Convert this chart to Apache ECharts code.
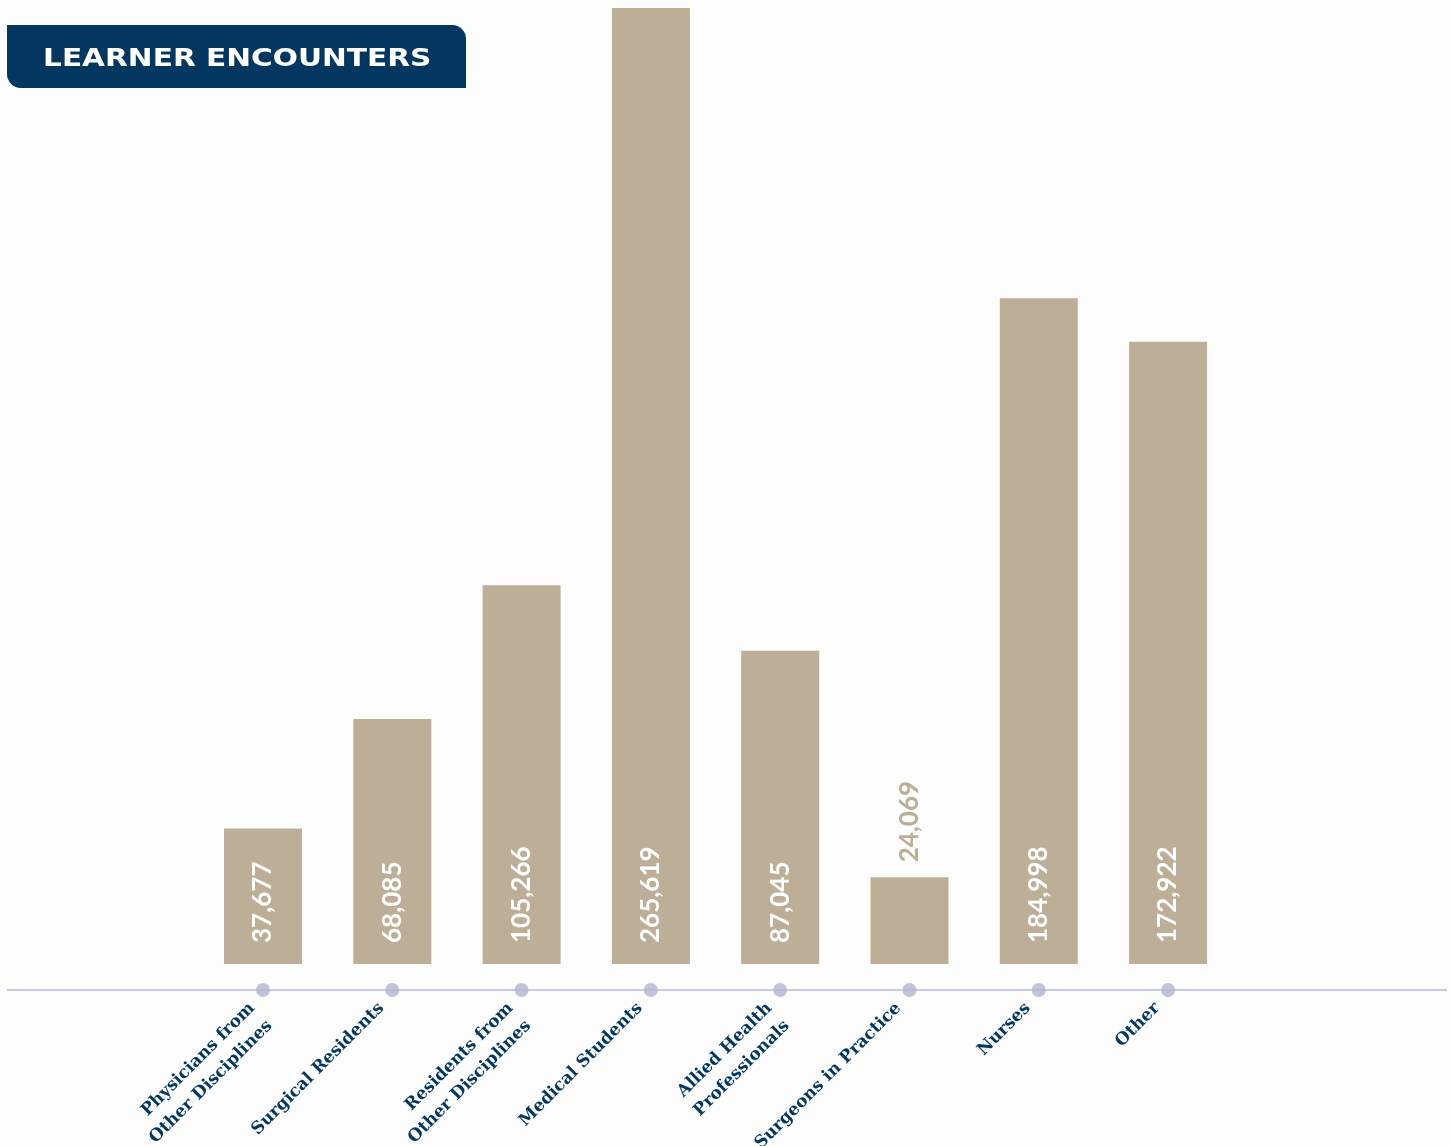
<!DOCTYPE html>
<html>
<head>
<meta charset="utf-8">
<script src="https://cdn.jsdelivr.net/npm/echarts@6/dist/echarts.min.js"></script>
<style>
html,body{margin:0;padding:0;background:#fdfdfd;}
#chart{width:1452px;height:1146px;}
</style>
</head>
<body>
<div id="chart"></div>
<script>
const titleText = 'LEARNER ENCOUNTERS';
const categories = [
  'Physicians from\nOther Disciplines',
  'Surgical Residents',
  'Residents from\nOther Disciplines',
  'Medical Students',
  'Allied Health\nProfessionals',
  'Surgeons in Practice',
  'Nurses',
  'Other'
];
const encounters = [37677, 68085, 105266, 265619, 87045, 24069, 184998, 172922];

const barColor = '#bdae97';
const navy = '#04375f';
const dotColor = '#b0b5cf';

const fmt = v => v.toLocaleString('en-US');

const barData = encounters.map(v => {
  const small = v < 30000;
  return {
    value: v,
    label: small ? {
      position: 'top', rotate: 90, align: 'left', verticalAlign: 'middle',
      distance: 10, color: barColor, offset: [5, 0]
    } : {
      position: 'insideBottom', rotate: 90, align: 'left', verticalAlign: 'middle',
      distance: 18, color: '#ffffff', offset: [3, 0]
    }
  };
});

const chart = echarts.init(document.getElementById('chart'), null, {renderer: 'canvas'});
chart.setOption({
  backgroundColor: '#fdfdfd',
  animation: false,
  grid: {left: 198.35, right: 219.25, top: 8, bottom: 182, containLabel: false, outerBoundsMode: 'none'},
  xAxis: {
    type: 'category',
    data: categories,
    axisLine: {show: false},
    axisTick: {show: false},
    axisLabel: {
      interval: 0,
      rotate: 45,
      align: 'right',
      verticalAlign: 'top',
      margin: 13,
      padding: [0, 28, 0, 0],
      lineHeight: 25,
      fontFamily: 'DejaVu Serif',
      fontWeight: 'bold',
      fontSize: 17,
      color: navy
    }
  },
  yAxis: {type: 'value', min: 0, max: 265619, show: false, splitLine: {show: false}},
  series: [
    {
      type: 'bar',
      data: barData,
      barWidth: 78,
      itemStyle: {color: barColor},
      label: {
        show: true,
        formatter: p => fmt(p.value),
        fontFamily: 'Lato',
        fontSize: 26,
        fontWeight: 'bold'
      }
    },
    {
      type: 'scatter',
      data: categories.map(() => 0),
      symbol: 'circle',
      symbolSize: 14,
      symbolOffset: [0, 26],
      itemStyle: {color: dotColor},
      silent: true,
      z: 5
    }
  ],
  graphic: [
    {
      type: 'line',
      shape: {x1: 7, y1: 990, x2: 1447, y2: 990},
      style: {stroke: '#b8bcd4', lineWidth: 1.5},
      z: 0
    },
    {
      type: 'rect',
      shape: {x: 7, y: 25, width: 459, height: 63, r: [0, 14, 0, 14]},
      style: {fill: navy},
      z: 10
    },
    {
      type: 'text',
      x: 43, y: 59,
      scaleX: 1.185,
      style: {
        text: titleText,
        fill: '#ffffff',
        font: 'bold 25px "DejaVu Sans"',
        verticalAlign: 'middle',
        align: 'left'
      },
      z: 11
    }
  ]
});
</script>
</body>
</html>
